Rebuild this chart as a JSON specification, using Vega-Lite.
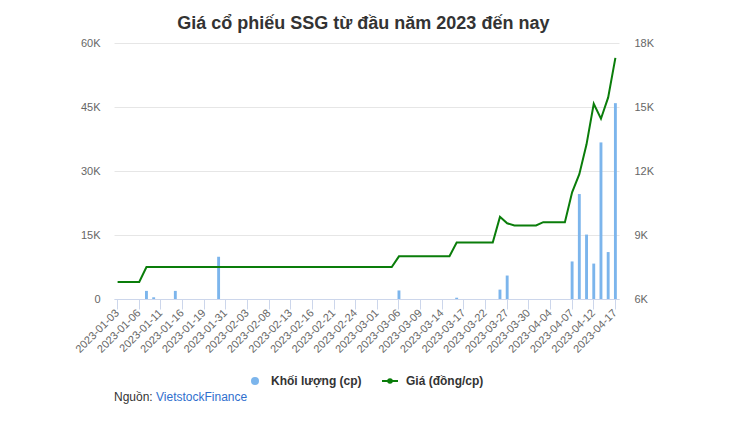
{
  "$schema": "https://vega.github.io/schema/vega-lite/v6.json",
  "background": "white",
  "padding": {"left": 73, "top": 15, "right": 5, "bottom": 5},
  "config": {"view": {"stroke": null}, "font": "Liberation Sans", "legend": {"layout": {"bottom": {"anchor": "middle"}}}},
  "title": {"text": "Giá cổ phiếu SSG từ đầu năm 2023 đến nay", "fontSize": 18, "fontWeight": "bold", "color": "#333333", "anchor": "middle", "offset": 4},
  "spacing": 4,
  "resolve": {"legend": {"color": "independent"}, "scale": {"color": "independent"}},
  "vconcat": [
    {
      "width": 505,
      "height": 256,
      "data": {"values": [
        {"d": "2023-01-03", "v": 0, "p": 6800},
        {"d": "2023-01-04", "v": 0, "p": 6800},
        {"d": "2023-01-05", "v": 0, "p": 6800},
        {"d": "2023-01-06", "v": 0, "p": 6800},
        {"d": "2023-01-09", "v": 1900, "p": 7500},
        {"d": "2023-01-10", "v": 400, "p": 7500},
        {"d": "2023-01-11", "v": 0, "p": 7500},
        {"d": "2023-01-12", "v": 0, "p": 7500},
        {"d": "2023-01-13", "v": 1900, "p": 7500},
        {"d": "2023-01-16", "v": 0, "p": 7500},
        {"d": "2023-01-17", "v": 0, "p": 7500},
        {"d": "2023-01-18", "v": 0, "p": 7500},
        {"d": "2023-01-19", "v": 0, "p": 7500},
        {"d": "2023-01-27", "v": 0, "p": 7500},
        {"d": "2023-01-30", "v": 9900, "p": 7500},
        {"d": "2023-01-31", "v": 0, "p": 7500},
        {"d": "2023-02-01", "v": 0, "p": 7500},
        {"d": "2023-02-02", "v": 0, "p": 7500},
        {"d": "2023-02-03", "v": 0, "p": 7500},
        {"d": "2023-02-06", "v": 0, "p": 7500},
        {"d": "2023-02-07", "v": 0, "p": 7500},
        {"d": "2023-02-08", "v": 0, "p": 7500},
        {"d": "2023-02-09", "v": 0, "p": 7500},
        {"d": "2023-02-10", "v": 0, "p": 7500},
        {"d": "2023-02-13", "v": 0, "p": 7500},
        {"d": "2023-02-14", "v": 0, "p": 7500},
        {"d": "2023-02-15", "v": 0, "p": 7500},
        {"d": "2023-02-16", "v": 0, "p": 7500},
        {"d": "2023-02-17", "v": 0, "p": 7500},
        {"d": "2023-02-20", "v": 0, "p": 7500},
        {"d": "2023-02-21", "v": 0, "p": 7500},
        {"d": "2023-02-22", "v": 0, "p": 7500},
        {"d": "2023-02-23", "v": 0, "p": 7500},
        {"d": "2023-02-24", "v": 0, "p": 7500},
        {"d": "2023-02-27", "v": 0, "p": 7500},
        {"d": "2023-02-28", "v": 0, "p": 7500},
        {"d": "2023-03-01", "v": 0, "p": 7500},
        {"d": "2023-03-02", "v": 0, "p": 7500},
        {"d": "2023-03-03", "v": 0, "p": 7500},
        {"d": "2023-03-06", "v": 2000, "p": 8000},
        {"d": "2023-03-07", "v": 0, "p": 8000},
        {"d": "2023-03-08", "v": 0, "p": 8000},
        {"d": "2023-03-09", "v": 0, "p": 8000},
        {"d": "2023-03-10", "v": 0, "p": 8000},
        {"d": "2023-03-13", "v": 0, "p": 8000},
        {"d": "2023-03-14", "v": 0, "p": 8000},
        {"d": "2023-03-15", "v": 0, "p": 8000},
        {"d": "2023-03-16", "v": 300, "p": 8650},
        {"d": "2023-03-17", "v": 0, "p": 8650},
        {"d": "2023-03-20", "v": 0, "p": 8650},
        {"d": "2023-03-21", "v": 0, "p": 8650},
        {"d": "2023-03-22", "v": 0, "p": 8650},
        {"d": "2023-03-23", "v": 0, "p": 8650},
        {"d": "2023-03-24", "v": 2200, "p": 9850},
        {"d": "2023-03-27", "v": 5500, "p": 9550},
        {"d": "2023-03-28", "v": 0, "p": 9450},
        {"d": "2023-03-29", "v": 0, "p": 9450},
        {"d": "2023-03-30", "v": 0, "p": 9450},
        {"d": "2023-03-31", "v": 0, "p": 9450},
        {"d": "2023-04-03", "v": 0, "p": 9600},
        {"d": "2023-04-04", "v": 0, "p": 9600},
        {"d": "2023-04-05", "v": 0, "p": 9600},
        {"d": "2023-04-06", "v": 0, "p": 9600},
        {"d": "2023-04-07", "v": 8800, "p": 11000},
        {"d": "2023-04-10", "v": 24600, "p": 11850},
        {"d": "2023-04-11", "v": 15100, "p": 13250},
        {"d": "2023-04-12", "v": 8300, "p": 15150},
        {"d": "2023-04-13", "v": 36700, "p": 14450},
        {"d": "2023-04-14", "v": 11000, "p": 15450},
        {"d": "2023-04-17", "v": 45900, "p": 17300}
      ]},
      "encoding": {
        "x": {
          "field": "d", "type": "ordinal", "sort": null,
          "scale": {"paddingInner": 0.6, "paddingOuter": 0.3},
          "axis": {
            "title": null,
            "values": ["2023-01-03","2023-01-06","2023-01-11","2023-01-16","2023-01-19","2023-01-31","2023-02-03","2023-02-08","2023-02-13","2023-02-16","2023-02-21","2023-02-24","2023-03-01","2023-03-06","2023-03-09","2023-03-14","2023-03-17","2023-03-22","2023-03-27","2023-03-30","2023-04-04","2023-04-07","2023-04-12","2023-04-17"],
            "labelAngle": -45, "labelAlign": "right", "labelBaseline": "middle",
            "labelFontSize": 11, "labelColor": "#666666", "labelPadding": 2,
            "tickColor": "#ccd6eb", "tickSize": 10, "domainColor": "#ccd6eb", "grid": false
          }
        }
      },
      "layer": [
        {
          "mark": {"type": "bar"},
          "encoding": {
            "y": {
              "field": "v", "type": "quantitative",
              "scale": {"domain": [0, 60000], "nice": false},
              "axis": {
                "title": null, "orient": "left", "values": [0, 15000, 30000, 45000, 60000],
                "labelExpr": "datum.value == 0 ? '0' : (datum.value / 1000) + 'K'",
                "labelFontSize": 11, "labelColor": "#666666", "labelPadding": 14,
                "ticks": false, "domain": false, "grid": true, "gridColor": "#e6e6e6"
              }
            },
            "color": {
              "datum": "Khối lượng (cp)", "type": "nominal",
              "scale": {"domain": ["Khối lượng (cp)", "Giá (đồng/cp)"], "range": ["#7cb5ec", "#0a7d0a"]},
              "legend": {
                "title": null, "orient": "bottom", "direction": "horizontal",
                "labelFontSize": 12, "labelFontWeight": "bold", "labelColor": "#333333",
                "labelOffset": 10, "columnPadding": 16, "symbolSize": 64, "offset": 20,
                "symbolType": "circle",
                "encode": {
                  "symbols": {
                    "update": {
                      "shape": {"signal": "datum.value === 'Giá (đồng/cp)' ? 'M-2,0L2,0M-0.45,0A0.45,0.45,0,1,1,0.45,0A0.45,0.45,0,1,1,-0.45,0' : 'circle'"},
                      "fill": {"signal": "datum.value === 'Giá (đồng/cp)' ? '#0a7d0a' : '#7cb5ec'"},
                      "stroke": {"signal": "datum.value === 'Giá (đồng/cp)' ? '#0a7d0a' : '#7cb5ec'"},
                      "strokeWidth": {"signal": "datum.value === 'Giá (đồng/cp)' ? 2 : 0"},
                      "opacity": {"value": 1}
                    }
                  }
                }
              }
            }
          }
        },
        {
          "mark": {"type": "line", "strokeWidth": 2},
          "encoding": {
            "y": {
              "field": "p", "type": "quantitative",
              "scale": {"domain": [6000, 18000], "nice": false},
              "axis": {
                "title": null, "orient": "right", "values": [6000, 9000, 12000, 15000, 18000],
                "labelExpr": "(datum.value / 1000) + 'K'",
                "labelFontSize": 11, "labelColor": "#666666", "labelPadding": 15,
                "ticks": false, "domain": false, "grid": false
              }
            },
            "color": {"datum": "Giá (đồng/cp)", "type": "nominal"}
          }
        }
      ],
      "resolve": {"scale": {"y": "independent"}}
    },
    {
      "width": 42,
      "height": 12,
      "data": {"values": [
        {"part": "Nguồn:", "kind": "label"},
        {"part": "VietstockFinance", "kind": "link"}
      ]},
      "mark": {"type": "text", "align": "left", "baseline": "middle", "fontSize": 12, "dx": 0},
      "encoding": {
        "x": {"field": "part", "type": "nominal", "sort": null, "scale": {"type": "point", "padding": 0}, "axis": null},
        "text": {"field": "part"},
        "color": {"field": "kind", "type": "nominal", "scale": {"domain": ["label", "link"], "range": ["#333333", "#2f6fce"]}, "legend": null}
      }
    }
  ]
}
